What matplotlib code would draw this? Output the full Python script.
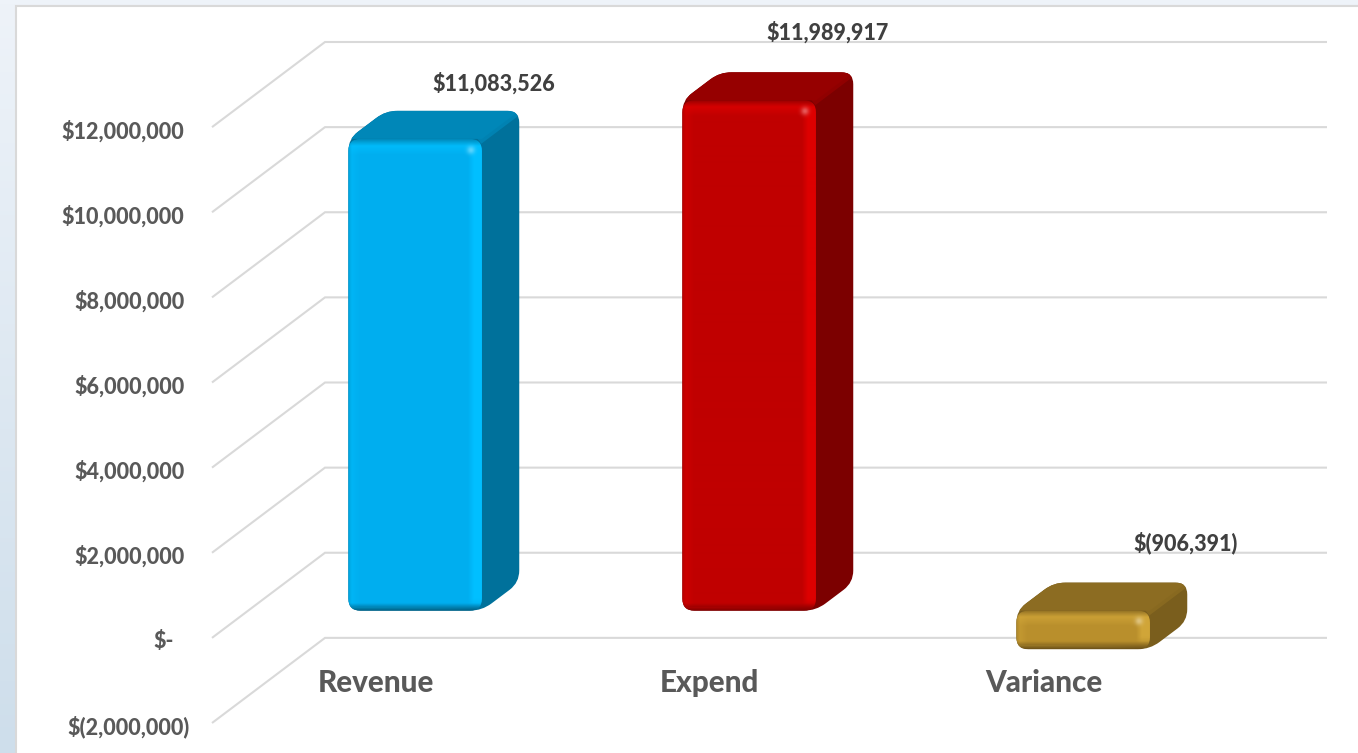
import numpy as np
import matplotlib
matplotlib.use("Agg")
import matplotlib.pyplot as plt
from matplotlib.path import Path
from matplotlib.patches import PathPatch, Rectangle
from matplotlib.colors import to_rgb
from matplotlib.transforms import ScaledTranslation

categories = ["Revenue", "Expend", "Variance"]
values = [11083526, 11989917, -906391]
value_labels = ["$11,083,526", "$11,989,917", "$(906,391)"]
tick_values = [-2000000, 0, 2000000, 4000000, 6000000, 8000000, 10000000, 12000000]
tick_labels = ["$(2,000,000)", "$-", "$2,000,000", "$4,000,000", "$6,000,000",
               "$8,000,000", "$10,000,000", "$12,000,000"]

# front, top, side, highlight colours for each bar
bar_front = ["#00aeef", "#c00000", "#b98f2c"]
bar_top = ["#0087b8", "#960000", "#8c6c22"]
bar_side = ["#00719b", "#7c0000", "#7a5e1d"]
bar_light = ["#00bfff", "#dd0000", "#d0a538"]
bar_dark = ["#005a7c", "#7c0000", "#6a5018"]

W, H = 1358, 753
AX_LEFT, AX_RIGHT = 212, 1214
AX_TOP, AX_BOTTOM = 42, 723

# one step of floor depth moves this far in data units
DEPTH_X = 113 / 334
DEPTH_Y = 2000000
D0, D1 = 0.32, 0.65
BAR_W = 0.4
SX = (AX_RIGHT - AX_LEFT) / 3
SY = (AX_BOTTOM - AX_TOP) / 16000000


def project(x, y, d):
    return x + d * DEPTH_X, y + d * DEPTH_Y


def rounded(pts, r):
    p = np.array([[a * SX, b * SY] for a, b in pts])
    verts, codes = [], []
    n = len(p)
    for i in range(n):
        a = p[i] + r * (p[i - 1] - p[i]) / np.linalg.norm(p[i - 1] - p[i])
        b = p[i] + r * (p[(i + 1) % n] - p[i]) / np.linalg.norm(p[(i + 1) % n] - p[i])
        verts += [a, p[i], b]
        codes += [Path.MOVETO if i == 0 else Path.LINETO, Path.CURVE3, Path.CURVE3]
    verts.append(verts[0])
    codes.append(Path.CLOSEPOLY)
    verts = np.array(verts) / [SX, SY]
    return Path(verts, codes)


def front_image(w, h, base, light, dark, top):
    u, v = np.meshgrid(np.arange(w) + 0.5, np.arange(h) + 0.5)
    base, light, dark, top = [np.array(to_rgb(c)) for c in (base, light, dark, top)]
    img = np.ones((h, w, 3)) * base

    def mix(mask, col):
        mask = np.clip(mask, 0, 1)[..., None]
        return img * (1 - mask) + col * mask

    img = mix(0.8 * (16 - v) / 10, light)
    img = mix(0.5 * (12 - u) / 10, light)
    img = mix(np.minimum((u - (w - 14)) / 6, 1) * np.minimum((h - v - 4) / 8, 1), light)
    img = mix((7 - v) / 7, top)
    img = mix((4 - u) / 4 * 0.5, top)
    img = mix((8 - (h - v)) / 8, dark)
    spot = np.exp(-((u - (w - 11)) ** 2 + (v - 11) ** 2) / 16)
    img = mix(0.7 * spot, light * 0.5 + 0.5)
    return img


plt.rcParams["font.family"] = ["Lato", "DejaVu Sans"]
plt.rcParams["font.weight"] = 900

fig = plt.figure(figsize=(W / 100, H / 100), dpi=100)

# slide background and the white panel
bg = fig.add_axes([0, 0, 1, 1], zorder=0)
bg.set_axis_off()
grad = np.linspace(0, 1, 200)[:, None, None]
bg.imshow(np.array(to_rgb("#eef3f9")) * (1 - grad) + np.array(to_rgb("#cedeeb")) * grad,
          extent=[0, W, H, 0], aspect="auto")
bg.add_patch(Rectangle((16, 6), W, H, facecolor="white", edgecolor="#d9d9d9", linewidth=1.5))
bg.set_xlim(0, W)
bg.set_ylim(H, 0)

ax = fig.add_axes([AX_LEFT / W, 1 - AX_BOTTOM / H, (AX_RIGHT - AX_LEFT) / W, (AX_BOTTOM - AX_TOP) / H],
                  zorder=1)
ax.patch.set_alpha(0)
for spine in ax.spines.values():
    spine.set_visible(False)

# side wall and back wall lines
for v in tick_values:
    xs = [-0.5, -0.5 + DEPTH_X, 2.5 + DEPTH_X]
    ys = [v, v + DEPTH_Y, v + DEPTH_Y]
    ax.plot(xs, ys, color="#d9d9d9", linewidth=1.5, clip_on=False, zorder=1,
            solid_capstyle="butt", solid_joinstyle="miter")

for i, val in enumerate(values):
    x0, x1 = i - BAR_W / 2, i + BAR_W / 2
    top, bot = max(val, 0), min(val, 0)

    sil = rounded([project(x0, bot, D0), project(x0, top, D0), project(x0, top, D1),
                   project(x1, top, D1), project(x1, bot, D1), project(x1, bot, D0)], 12)
    sil_patch = PathPatch(sil, facecolor=bar_side[i], edgecolor="none", zorder=2, clip_on=False)
    ax.add_patch(sil_patch)

    top_face = PathPatch(Path([project(x0, top, D0), project(x1, top, D0), project(x1, top, D1),
                               project(x0, top, D1), project(x0, top, D0)]),
                         facecolor=bar_top[i], edgecolor="none", zorder=3)
    ax.add_patch(top_face)
    top_face.set_clip_path(sil_patch)

    # soft bevel along the top right edge
    xs, ys = zip(project(x1, top, D0), project(x1, top, D1))
    edge, = ax.plot(xs, ys, color=bar_top[i], linewidth=5, zorder=3, alpha=0.8)
    edge.set_clip_path(sil_patch)

    fx0, fy0 = project(x0, bot, D0)
    fx1, fy1 = project(x1, top, D0)
    w_px = int(round((fx1 - fx0) * SX))
    h_px = int(round((fy1 - fy0) * SY))
    face = PathPatch(rounded([(fx0, fy0), (fx0, fy1), (fx1, fy1), (fx1, fy0)], 12),
                     facecolor="none", edgecolor="none", zorder=4)
    ax.add_patch(face)
    im = ax.imshow(front_image(w_px, h_px, bar_front[i], bar_light[i], bar_dark[i], bar_top[i]),
                   extent=[fx0, fx1, fy0, fy1], aspect="auto", zorder=4, interpolation="bilinear")
    im.set_clip_path(face)

ax.set_xlim(-0.5, 2.5)
ax.set_ylim(-2000000, 14000000)

# tick labels
ax.set_xticks([])
ax.set_yticks(tick_values, tick_labels, fontsize=15.5, color="#595959")
ax.tick_params(axis="y", length=0, pad=20)
pads = [16, 27.5, 20, 20, 20, 20, 20, 20]
down = ScaledTranslation(0, -4 / 100, fig.dpi_scale_trans)
for tick, pad in zip(ax.yaxis.get_major_ticks(), pads):
    tick.set_pad(pad)
    tick.label1.set_verticalalignment("center")
    tick.label1.set_transform(tick.label1.get_transform() + down)

for i, name in enumerate(categories):
    ax.annotate(name, xy=(i, -1000000), xytext=(-2.5, -2), textcoords="offset points",
                ha="center", va="center", fontsize=21.3, color="#595959", zorder=6)

label_offsets = [(30, 20), (29.5, 28.5), (47, 28.5)]
for i, (val, text) in enumerate(zip(values, value_labels)):
    ax.annotate(text, xy=project(i, max(val, 0), D1), xytext=label_offsets[i],
                textcoords="offset points", ha="center", va="center", fontsize=15.5,
                color="#404040", zorder=6, annotation_clip=False)

fig.savefig("out.png", dpi=100)
